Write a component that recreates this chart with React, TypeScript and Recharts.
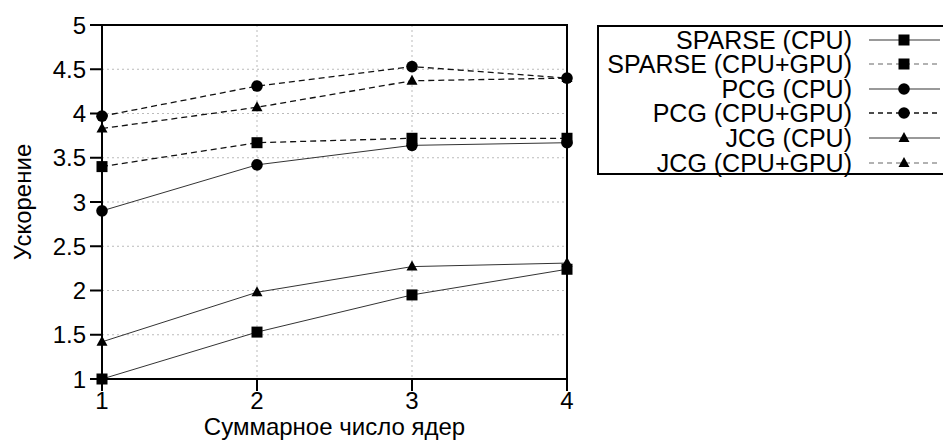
import React from "react";
import { LineChart, Line, XAxis, YAxis, CartesianGrid, ReferenceArea } from "recharts";

const cores = [1, 2, 3, 4];
const sparseCpu = [1.0, 1.53, 1.95, 2.24];
const sparseGpu = [3.4, 3.67, 3.72, 3.72];
const pcgCpu = [2.9, 3.42, 3.64, 3.67];
const pcgGpu = [3.97, 4.31, 4.53, 4.4];
const jcgCpu = [1.42, 1.98, 2.27, 2.31];
const jcgGpu = [3.83, 4.07, 4.37, 4.4];
const yTicks = [1, 1.5, 2, 2.5, 3, 3.5, 4, 4.5, 5];
const xTicks = [1, 2, 3, 4];

type Marker = "square" | "circle" | "triangle";

const series: Array<{ key: string; label: string; values: number[]; marker: Marker; dashed: boolean; color: string; legendColor: string }> = [
  { key: "sparseCpu", label: "SPARSE (CPU)", values: sparseCpu, marker: "square", dashed: false, color: "#333", legendColor: "#777" },
  { key: "sparseGpu", label: "SPARSE (CPU+GPU)", values: sparseGpu, marker: "square", dashed: true, color: "#111", legendColor: "#999" },
  { key: "pcgCpu", label: "PCG (CPU)", values: pcgCpu, marker: "circle", dashed: false, color: "#333", legendColor: "#777" },
  { key: "pcgGpu", label: "PCG (CPU+GPU)", values: pcgGpu, marker: "circle", dashed: true, color: "#111", legendColor: "#111" },
  { key: "jcgCpu", label: "JCG (CPU)", values: jcgCpu, marker: "triangle", dashed: false, color: "#333", legendColor: "#777" },
  { key: "jcgGpu", label: "JCG (CPU+GPU)", values: jcgGpu, marker: "triangle", dashed: true, color: "#111", legendColor: "#999" },
];

const data = cores.map((c, i) => {
  const row: Record<string, number> = { cores: c };
  series.forEach((s) => (row[s.key] = s.values[i]));
  return row;
});

const FONT = "'Liberation Sans', Arial, sans-serif";
const FRAME = "#000";

function MarkerShape({ cx, cy, marker }: { cx: number; cy: number; marker: Marker }) {
  if (marker === "square") return <rect x={cx - 5.5} y={cy - 5.5} width={11} height={11} fill="#000" />;
  if (marker === "circle") return <circle cx={cx} cy={cy} r={5.8} fill="#000" />;
  return <polygon points={`${cx},${cy - 6} ${cx - 5.5},${cy + 4} ${cx + 5.5},${cy + 4}`} fill="#000" />;
}

function makeDot(marker: Marker) {
  return (props: any) => {
    const { cx, cy, index } = props;
    if (cx == null || cy == null) return <g key={index} />;
    return <MarkerShape key={index} cx={cx} cy={cy} marker={marker} />;
  };
}

function LegendBox() {
  return (
    <div style={{ position: "absolute", left: 597, top: 25, width: 360, height: 150, border: "2px solid #000", boxSizing: "border-box", fontFamily: FONT, fontSize: 25 }}>
      {series.map((s, i) => (
        <div key={s.key} style={{ position: "absolute", top: 0.5 + i * 24.6, left: 0, height: 24, width: 360, lineHeight: "24px" }}>
          <span style={{ position: "absolute", right: 360 - 253, whiteSpace: "nowrap", lineHeight: "24px" }}>{s.label}</span>
          <svg style={{ position: "absolute", left: 268, top: 0 }} width={75} height={24}>
            <line x1={2} y1={12} x2={73} y2={12} stroke={s.legendColor} strokeWidth={1.3} strokeDasharray={s.dashed ? "5 4" : undefined} />
            <MarkerShape cx={37} cy={12} marker={s.marker} />
          </svg>
        </div>
      ))}
    </div>
  );
}

export default function App() {
  return (
    <div style={{ position: "absolute", left: 0, top: 0, width: 943, height: 441, background: "#fff" }}>
      <LineChart width={943} height={441} data={data} margin={{ top: 25, right: 376, bottom: 0, left: 0 }}>
        <CartesianGrid stroke="#bbb" strokeDasharray="2 3" />
        <XAxis
          dataKey="cores"
          type="number"
          domain={[1, 4]}
          ticks={xTicks}
          height={62}
          tickSize={12}
          tickMargin={1}
          axisLine={{ stroke: FRAME, strokeWidth: 2 }}
          tickLine={{ stroke: FRAME, strokeWidth: 2 }}
          tick={{ fill: "#000", fontSize: 24, fontFamily: FONT }}
          label={{ value: "Суммарное число ядер", position: "insideBottom", offset: 6, fill: "#000", fontSize: 24, fontFamily: FONT }}
        />
        <YAxis
          type="number"
          domain={[1, 5]}
          ticks={yTicks}
          width={102}
          tickSize={12}
          tickMargin={4}
          axisLine={{ stroke: FRAME, strokeWidth: 2 }}
          tickLine={{ stroke: FRAME, strokeWidth: 2 }}
          tick={{ fill: "#000", fontSize: 24, fontFamily: FONT }}
          label={{ value: "Ускорение", angle: -90, position: "insideLeft", offset: 22, fill: "#000", fontSize: 24, fontFamily: FONT, style: { textAnchor: "middle" } }}
        />
        <ReferenceArea x1={1} x2={4} y1={1} y2={5} fillOpacity={0} stroke={FRAME} strokeWidth={2} />
        {series.map((s) => (
          <Line
            key={s.key}
            dataKey={s.key}
            type="linear"
            stroke={s.color}
            strokeWidth={s.dashed ? 1.3 : 1}
            strokeDasharray={s.dashed ? "6 4" : undefined}
            dot={makeDot(s.marker)}
            activeDot={false}
            isAnimationActive={false}
          />
        ))}
      </LineChart>
      <LegendBox />
    </div>
  );
}
